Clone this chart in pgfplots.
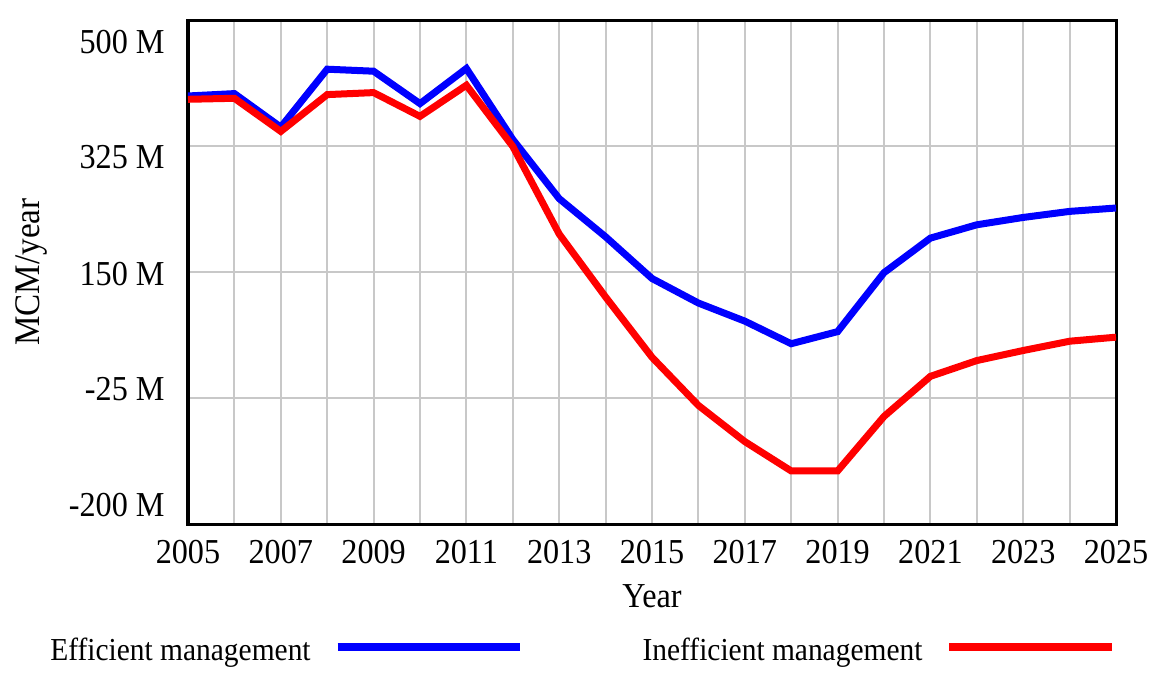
\documentclass[border=0pt]{standalone}
\usepackage{fontspec}
\setmainfont[FakeStretch=0.92]{Liberation Serif}
\usepackage{pgfplots}
\pgfplotsset{compat=1.18}

\definecolor{gridgray}{RGB}{200,200,200}

% values in M MCM/year
\pgfplotstableread{
year eff ineff
2005 394.5 389.9
2006 397.8 391.3
2007 351.3 345.3
2008 431.7 396.4
2009 428.9 399.2
2010 383.9 366.2
2011 432.7 409.4
2012 334.1 324.4
2013 251.9 202.7
2014 198.9 115.3
2015 141.0 31.6
2016 106.9 -35.3
2017 81.8 -85.5
2018 50.4 -126.3
2019 67.2 -126.3
2020 149.1 -50.6
2021 197.1 5.1
2022 215.6 27.0
2023 225.8 41.0
2024 234.2 53.9
2025 238.9 59.5
}\mgmt

\newcommand\tickfont{\fontsize{17.5}{20}\selectfont}
\newcommand\legfont{\fontsize{16}{19}\selectfont}

\pgfplotsset{
    legline/.style={legend image code/.code={%
        \draw[##1, line width=4pt] (0pt,2pt) -- (#1,2pt);}},
}

\begin{document}
\begin{tikzpicture}
\path[use as bounding box] (-94pt,-76pt) rectangle (485.5pt,262pt);
\begin{axis}[
    name=ax, at={(0,0)}, anchor=south west,
    scale only axis, width=464pt, height=252pt,
    xmin=2005, xmax=2025, ymin=-200, ymax=500,
    xtick={2005,2007,...,2025},
    minor xtick={2006,2008,...,2024},
    xticklabels={2005,2007,2009,2011,2013,2015,2017,2019,2021,2023,2025},
    ytick={-200,-25,150,325,500},
    yticklabels={},
    extra y ticks={-174,-13,147,310,469},
    extra y tick labels={-200 M,-25 M,150 M,325 M,500 M},
    extra y tick style={grid=none},
    major tick length=0pt, minor tick length=0pt,
    grid=both,
    major grid style={gridgray, line width=1pt},
    minor grid style={gridgray, line width=1pt},
    axis line style={black, line width=1.5pt},
    tick label style={font=\tickfont},
    yticklabel style={anchor=east, inner sep=0pt, xshift=-11.5pt},
    xticklabel style={anchor=north, inner sep=0pt, yshift=-8pt},
    xlabel={Year},
    xlabel style={font=\tickfont, at={(axis description cs:0.5,-0.12)}, anchor=north, inner sep=0pt},
    ylabel={MCM/year},
    ylabel style={font=\fontsize{18}{20}\selectfont, at={(axis description cs:-0.1595,0.5)}, anchor=base, inner sep=0pt},
    legend plot pos=right,
    legend columns=2,
    legend style={at={(axis description cs:-0.1487,-0.252)}, anchor=west,
        draw=none, fill=none, inner sep=0pt, font=\legfont,
        nodes={inner sep=0pt},
        /tikz/every odd column/.append style={column sep=11.5pt},
        /tikz/every even column/.append style={column sep=59.5pt}},
]
\addplot[blue, line width=3.5pt, legline=91pt] table[x=year, y=eff] {\mgmt};
\addplot[red, line width=3.5pt, legline=81.5pt] table[x=year, y=ineff] {\mgmt};
\legend{Efficient management, Inefficient management}
\end{axis}
\end{tikzpicture}
\end{document}
